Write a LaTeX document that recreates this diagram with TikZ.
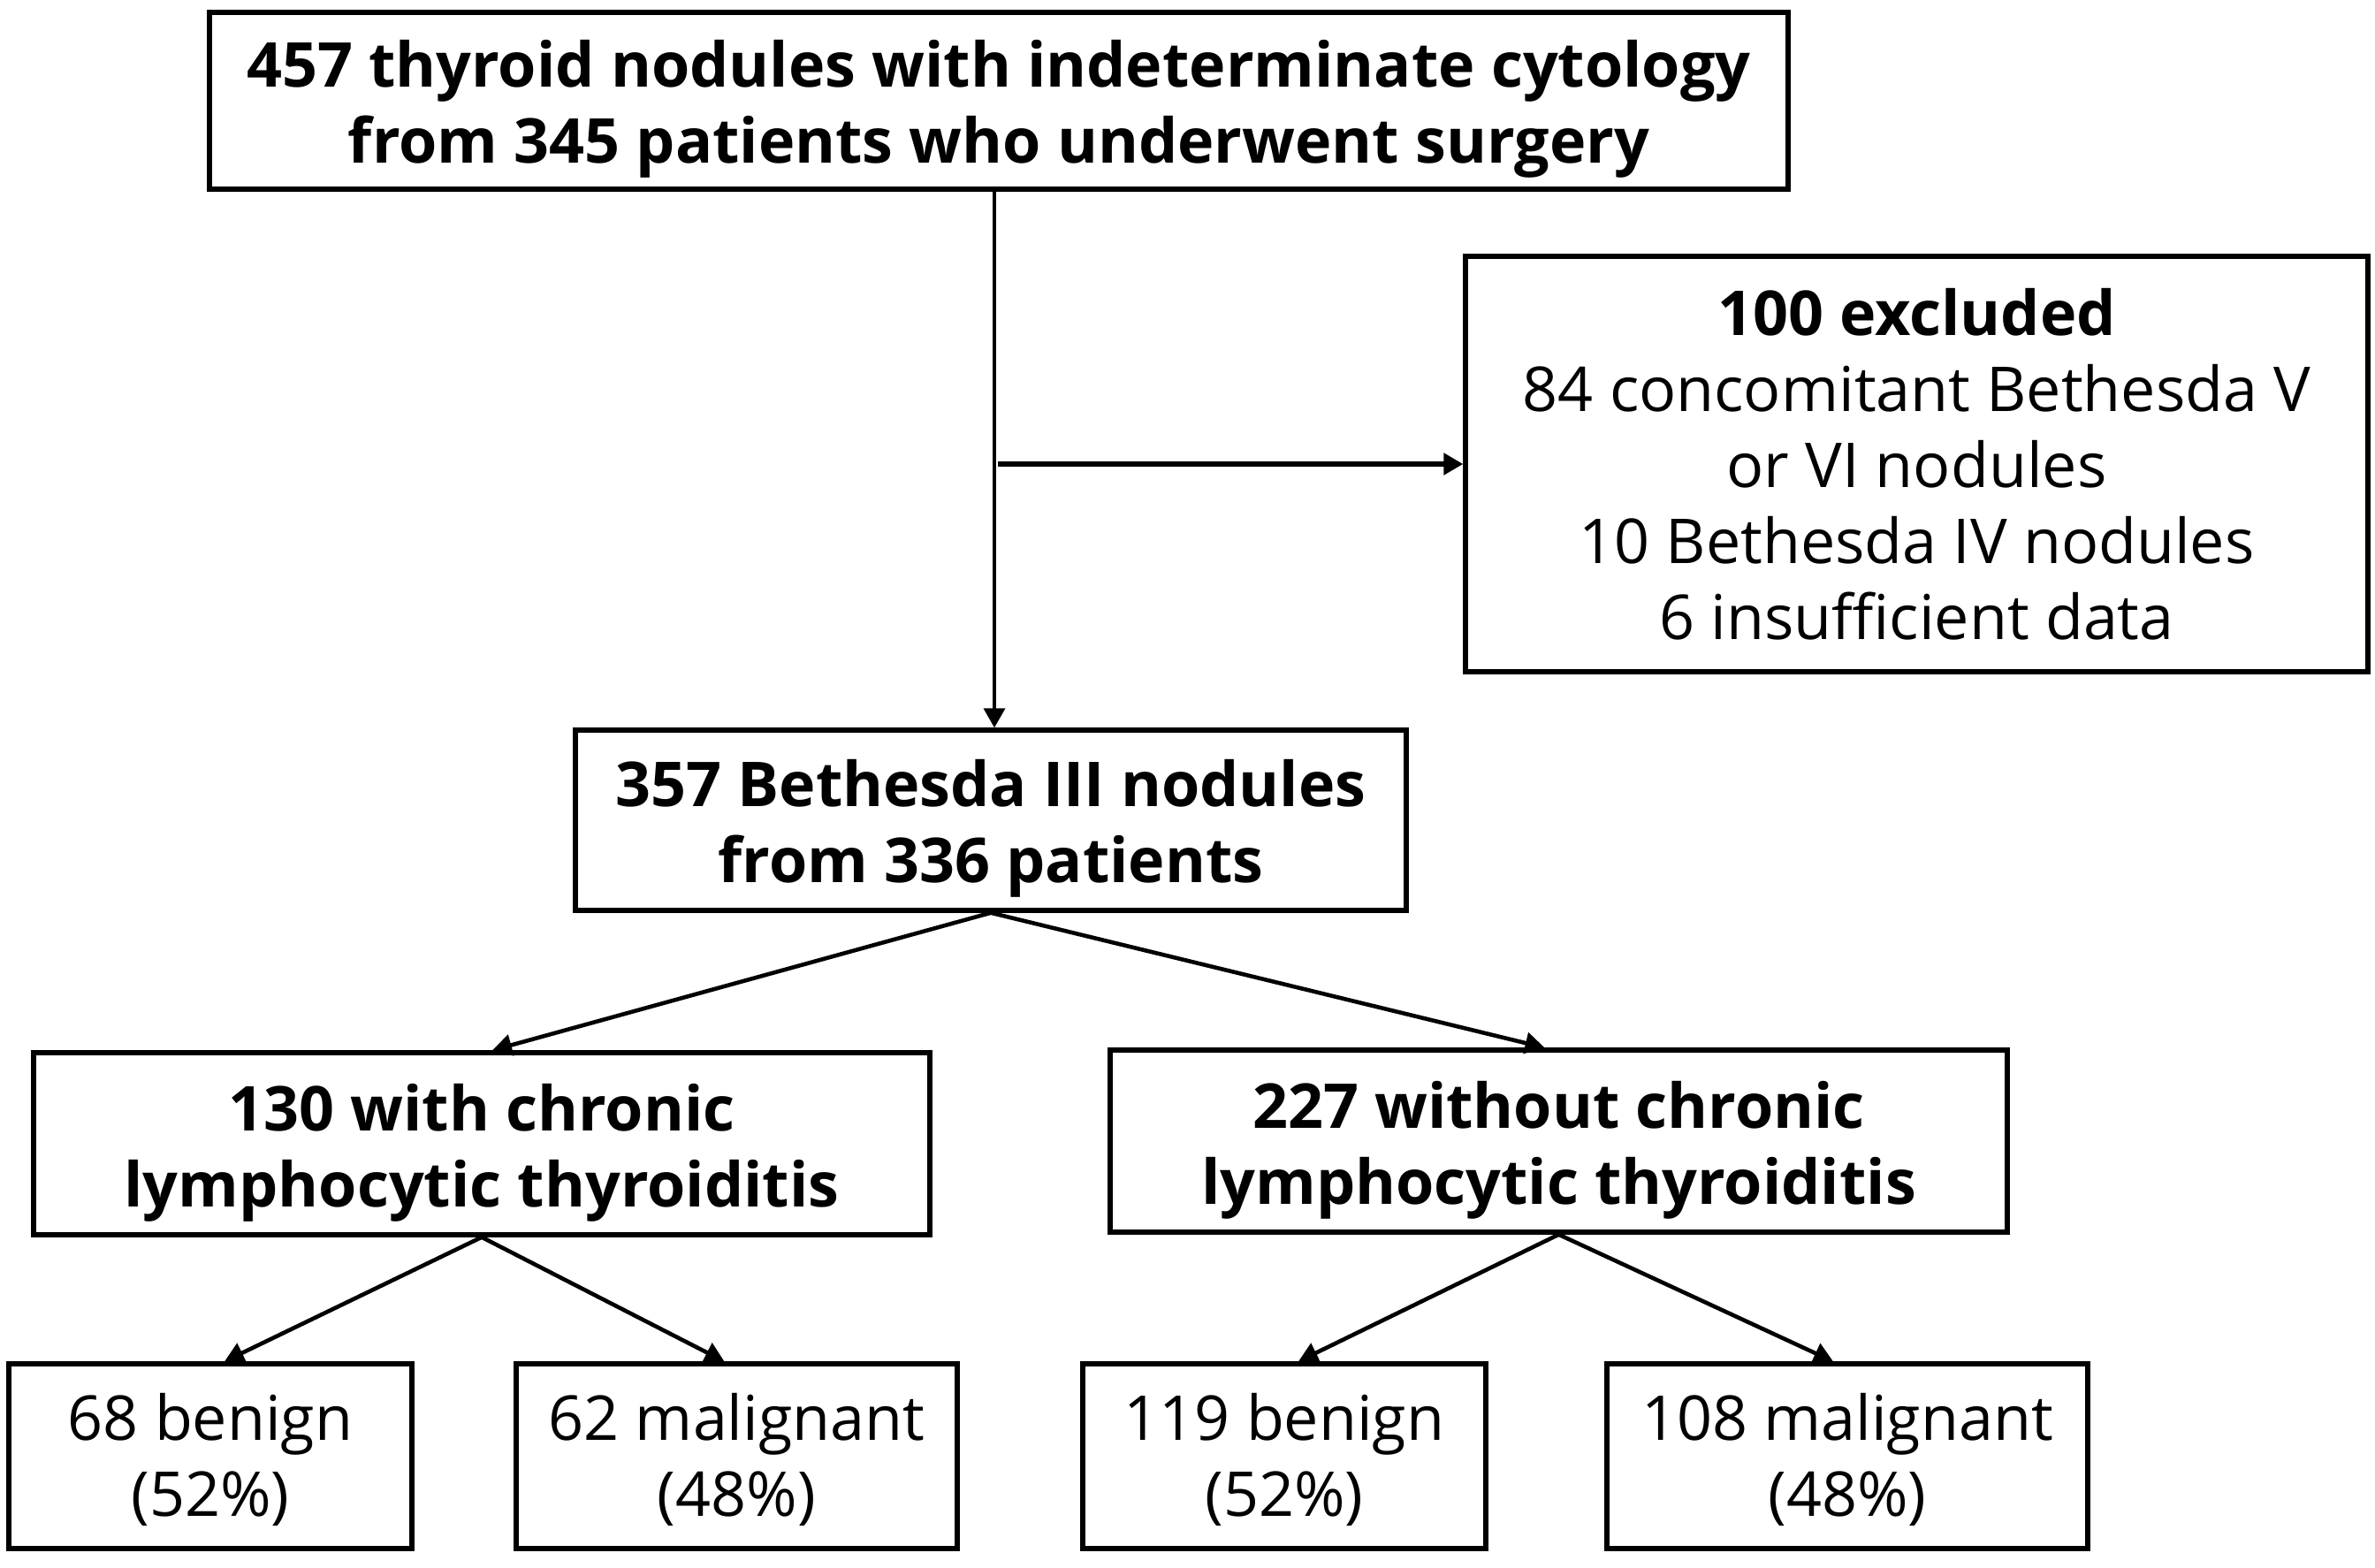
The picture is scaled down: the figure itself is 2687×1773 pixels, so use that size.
\documentclass[tikz,border=0pt]{standalone}
\usepackage{fontspec}
\setmainfont{Open Sans}
\usetikzlibrary{arrows.meta,calc}
\newcommand\upstrut[1]{\rule{0pt}{#1}}
\tikzset{
  box/.style={draw, line width=2.7pt, inner sep=0pt, align=center, font=\fontsize{35}{43}\selectfont},
  conn/.style={line width=2.3pt, -{Triangle[length=11pt,width=12pt]}},
}
\begin{document}
\begin{tikzpicture}[x=0.5pt,y=-0.5pt]
\useasboundingbox (0,0) rectangle (2687,1773);
\node[box, minimum width=893pt, minimum height=100pt] (top) at (1130,114)
  {\upstrut{36pt}\bfseries 457 thyroid nodules with indeterminate cytology\\\bfseries from 345 patients who underwent surgery};
\node[box, minimum width=510.5pt, minimum height=235pt] (excl) at (2168.5,525)
  {\bfseries 100 excluded\\84 concomitant Bethesda V\\or VI nodules\\10 Bethesda IV nodules\\6 insufficient data};
\node[box, minimum width=470pt, minimum height=102pt] (b357) at (1121,928)
  {\upstrut{36pt}\bfseries 357 Bethesda III nodules\\\bfseries from 336 patients};
\node[box, minimum width=507pt, minimum height=103pt] (cwith) at (545,1294)
  {\upstrut{37pt}\bfseries 130 with chronic\\\bfseries lymphocytic thyroiditis};
\node[box, minimum width=507.5pt, minimum height=103pt] (cwo) at (1763.5,1291)
  {\upstrut{37pt}\bfseries 227 without chronic\\\bfseries lymphocytic thyroiditis};
\node[box, minimum width=228pt, minimum height=104.5pt] (a) at (238,1647.5) {\upstrut{31pt}68 benign\\(52\%)};
\node[box, minimum width=249.5pt, minimum height=104.5pt] (b) at (833.5,1647.5) {\upstrut{31pt}62 malignant\\(48\%)};
\node[box, minimum width=228pt, minimum height=104.5pt] (c) at (1453,1647.5) {\upstrut{31pt}119 benign\\(52\%)};
\node[box, minimum width=272pt, minimum height=104.5pt] (d) at (2090,1647.5) {\upstrut{31pt}108 malignant\\(48\%)};
\coordinate (v) at (1125,0);
\draw[conn, line width=1.8pt] (v |- top.south) -- (v |- b357.north);
\draw[conn, line width=2.6pt] ($(v |- excl.west)+(4,0)$) -- (excl.west);
\draw[conn] (b357.south) -- ([xshift=6pt]cwith.north);
\draw[conn] (b357.south) -- ([xshift=-8pt]cwo.north);
\draw[conn] (cwith.south) -- ([xshift=8pt]a.north);
\draw[conn] (cwith.south) -- ([xshift=-7pt]b.north);
\draw[conn] (cwo.south) -- ([xshift=8pt]c.north);
\draw[conn] (cwo.south) -- ([xshift=-8pt]d.north);
\end{tikzpicture}
\end{document}
